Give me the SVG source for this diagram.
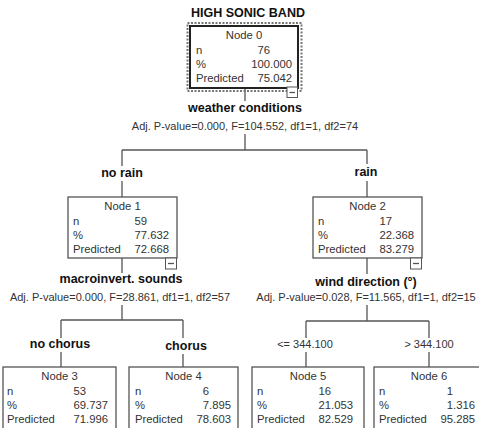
<svg xmlns="http://www.w3.org/2000/svg" width="479" height="428" viewBox="0 0 479 428">
<style>
text{font-family:"Liberation Sans",Arial,sans-serif}
.t{font-size:11.3px;fill:#333}
.c{text-anchor:middle}
.e{text-anchor:end}
.b{font-size:12.5px;font-weight:bold;fill:#111;text-anchor:middle}
.s{font-size:11px;fill:#333;text-anchor:middle}
.box{fill:#fff;stroke:#555;stroke-width:1.3}
.mb{fill:#fff;stroke:#555;stroke-width:1}
.ln{stroke:#555;stroke-width:1.3;fill:none}
</style>
<rect width="479" height="428" fill="#fff"/>
<text class="b" x="248" y="17">HIGH SONIC BAND</text>
<g id="connectors">
<path class="ln" d="M245 88V101M245 134V150M122 150H367M122 150V166M122 181V197M367 150V164M367 181V197"/>
<path class="ln" d="M122 258V273M122 305V320M61 320H183M61 320V338M61 352V367M183 320V338M183 354V367"/>
<path class="ln" d="M367 258V274M367 305V321M306 321H429M306 321V338M306 352V367M429 321V338M429 352V367"/>
<text class="b" x="245" y="112">weather conditions</text>
<text class="s" x="245" y="130">Adj. P-value=0.000, F=104.552, df1=1, df2=74</text>
<text class="b" x="122" y="177">no rain</text>
<text class="b" x="366" y="176">rain</text>
<text class="b" x="121" y="283">macroinvert. sounds</text>
<text class="s" x="120" y="301">Adj. P-value=0.000, F=28.861, df1=1, df2=57</text>
<text class="b" x="366" y="286">wind direction (°)</text>
<text class="s" x="366" y="301">Adj. P-value=0.028, F=11.565, df1=1, df2=15</text>
<text class="b" x="60" y="348">no chorus</text>
<text class="b" x="186" y="350">chorus</text>
<text class="s" x="305" y="348">&lt;= 344.100</text>
<text class="s" x="429" y="348">&gt; 344.100</text>
</g>
<g id="node0">
<rect x="187.5" y="23" width="114" height="68" fill="none" stroke="#777" stroke-width="2" stroke-dasharray="2 1.5"/>
<rect x="190" y="26" width="108" height="62" fill="#fff" stroke="#222" stroke-width="2"/>
<text class="t c" x="244" y="39">Node 0</text>
<text class="t" x="196" y="54">n</text><text class="t e" x="270" y="54">76</text>
<text class="t" x="196" y="68">%</text><text class="t e" x="292" y="68">100.000</text>
<text class="t" x="196" y="82">Predicted</text><text class="t e" x="292" y="82">75.042</text>
<rect class="mb" x="287" y="87" width="10.5" height="10.5"/><path class="ln" d="M289.5 92.5H295"/>
</g>
<g id="node1">
<rect class="box" x="68" y="197" width="109" height="61"/>
<text class="t c" x="122.5" y="210">Node 1</text>
<text class="t" x="73" y="225">n</text><text class="t e" x="147" y="225">59</text>
<text class="t" x="73" y="239">%</text><text class="t e" x="169" y="239">77.632</text>
<text class="t" x="73" y="253">Predicted</text><text class="t e" x="169" y="253">72.668</text>
<rect class="mb" x="165.5" y="258" width="11" height="11"/><path class="ln" d="M168 263.5H174"/>
</g>
<g id="node2">
<rect class="box" x="313" y="197" width="109" height="61"/>
<text class="t c" x="367.5" y="210">Node 2</text>
<text class="t" x="318" y="225">n</text><text class="t e" x="392" y="225">17</text>
<text class="t" x="318" y="239">%</text><text class="t e" x="414" y="239">22.368</text>
<text class="t" x="318" y="253">Predicted</text><text class="t e" x="414" y="253">83.279</text>
<rect class="mb" x="410.5" y="258" width="11" height="11"/><path class="ln" d="M413 263.5H419"/>
</g>
<g id="node3">
<rect class="box" x="3" y="367" width="113" height="70"/>
<text class="t c" x="59.5" y="380">Node 3</text>
<text class="t" x="7" y="395">n</text><text class="t e" x="86" y="395">53</text>
<text class="t" x="7" y="409">%</text><text class="t e" x="108" y="409">69.737</text>
<text class="t" x="7" y="423">Predicted</text><text class="t e" x="108" y="423">71.996</text>
</g>
<g id="node4">
<rect class="box" x="129" y="367" width="109" height="70"/>
<text class="t c" x="183.5" y="380">Node 4</text>
<text class="t" x="135" y="395">n</text><text class="t e" x="209" y="395">6</text>
<text class="t" x="135" y="409">%</text><text class="t e" x="231" y="409">7.895</text>
<text class="t" x="135" y="423">Predicted</text><text class="t e" x="231" y="423">78.603</text>
</g>
<g id="node5">
<rect class="box" x="252" y="367" width="112" height="70"/>
<text class="t c" x="308" y="380">Node 5</text>
<text class="t" x="257" y="395">n</text><text class="t e" x="331" y="395">16</text>
<text class="t" x="257" y="409">%</text><text class="t e" x="353" y="409">21.053</text>
<text class="t" x="257" y="423">Predicted</text><text class="t e" x="353" y="423">82.529</text>
</g>
<g id="node6">
<rect class="box" x="374" y="367" width="112" height="70"/>
<text class="t c" x="429" y="380">Node 6</text>
<text class="t" x="379" y="395">n</text><text class="t e" x="453" y="395">1</text>
<text class="t" x="379" y="409">%</text><text class="t e" x="475" y="409">1.316</text>
<text class="t" x="379" y="423">Predicted</text><text class="t e" x="475" y="423">95.285</text>
</g>
</svg>
